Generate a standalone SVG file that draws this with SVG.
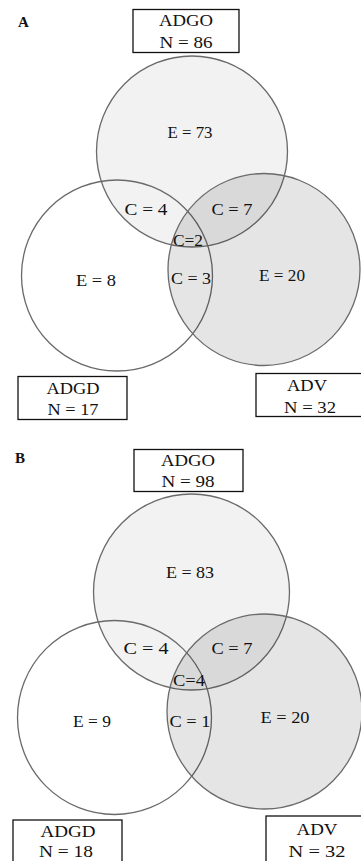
<svg xmlns="http://www.w3.org/2000/svg" width="361" height="861" viewBox="0 0 361 861">
<style>
text{font-family:"Liberation Serif","Times New Roman",serif;font-size:17px;fill:#111;text-anchor:middle}
.panel{font-size:15px;text-anchor:start;font-weight:bold}
.c{stroke:#6a6a6a;stroke-width:1.3}
.top{fill:#000;fill-opacity:0.05}
.left{fill:none}
.right{fill:#000;fill-opacity:0.1}
.box{fill:#fff;stroke:#111;stroke-width:1.3}
</style>
<rect width="361" height="861" fill="#fff"/>
<g id="panelA">
<text class="panel" x="18" y="27">A</text>
<g id="A-ADGO">
<circle class="c top" cx="192" cy="151.5" r="95.5"/>
<rect class="box" x="133" y="9.5" width="106" height="43"/>
<text x="186" y="26" textLength="54" lengthAdjust="spacingAndGlyphs">ADGO</text>
<text x="186" y="48" textLength="53" lengthAdjust="spacingAndGlyphs">N = 86</text>
</g>
<g id="A-ADGD">
<circle class="c left" cx="117" cy="275.5" r="95.5"/>
<rect class="box" x="18" y="376.5" width="109" height="43"/>
<text x="73" y="394" textLength="53" lengthAdjust="spacingAndGlyphs">ADGD</text>
<text x="73" y="415" textLength="51" lengthAdjust="spacingAndGlyphs">N = 17</text>
</g>
<g id="A-ADV">
<circle class="c right" cx="264" cy="269.5" r="96"/>
<rect class="box" x="256" y="373.5" width="110" height="43"/>
<text x="307" y="391" textLength="40" lengthAdjust="spacingAndGlyphs">ADV</text>
<text x="310" y="413" textLength="52" lengthAdjust="spacingAndGlyphs">N = 32</text>
</g>
<g id="A-labels">
<text x="190" y="138" textLength="45" lengthAdjust="spacingAndGlyphs">E = 73</text>
<text x="146" y="215" textLength="43" lengthAdjust="spacingAndGlyphs">C = 4</text>
<text x="232" y="215" textLength="41" lengthAdjust="spacingAndGlyphs">C = 7</text>
<text x="188" y="246" textLength="30" lengthAdjust="spacingAndGlyphs">C=2</text>
<text x="96" y="286" textLength="40" lengthAdjust="spacingAndGlyphs">E = 8</text>
<text x="191" y="284" textLength="40" lengthAdjust="spacingAndGlyphs">C = 3</text>
<text x="282" y="281" textLength="46" lengthAdjust="spacingAndGlyphs">E = 20</text>
</g>
</g>
<g id="panelB">
<text class="panel" x="15" y="463">B</text>
<g id="B-ADGO">
<circle class="c top" cx="191.5" cy="592" r="98"/>
<rect class="box" x="134" y="449.5" width="109" height="42"/>
<text x="188" y="466" textLength="54" lengthAdjust="spacingAndGlyphs">ADGO</text>
<text x="188" y="487" textLength="53" lengthAdjust="spacingAndGlyphs">N = 98</text>
</g>
<g id="B-ADGD">
<circle class="c left" cx="114.5" cy="717.5" r="97"/>
<rect class="box" x="13" y="820" width="109" height="50"/>
<text x="68" y="837" textLength="55" lengthAdjust="spacingAndGlyphs">ADGD</text>
<text x="66" y="857" textLength="54" lengthAdjust="spacingAndGlyphs">N = 18</text>
</g>
<g id="B-ADV">
<circle class="c right" cx="264.5" cy="711.5" r="97.5"/>
<rect class="box" x="266" y="816" width="110" height="55"/>
<text x="317" y="835" textLength="41" lengthAdjust="spacingAndGlyphs">ADV</text>
<text x="317" y="857" textLength="57" lengthAdjust="spacingAndGlyphs">N = 32</text>
</g>
<g id="B-labels">
<text x="190" y="578" textLength="48" lengthAdjust="spacingAndGlyphs">E = 83</text>
<text x="146" y="654" textLength="45" lengthAdjust="spacingAndGlyphs">C = 4</text>
<text x="232" y="654" textLength="41" lengthAdjust="spacingAndGlyphs">C = 7</text>
<text x="189" y="686" textLength="32" lengthAdjust="spacingAndGlyphs">C=4</text>
<text x="92" y="727" textLength="38" lengthAdjust="spacingAndGlyphs">E = 9</text>
<text x="190" y="727" textLength="41" lengthAdjust="spacingAndGlyphs">C = 1</text>
<text x="285" y="723" textLength="49" lengthAdjust="spacingAndGlyphs">E = 20</text>
</g>
</g>
</svg>
